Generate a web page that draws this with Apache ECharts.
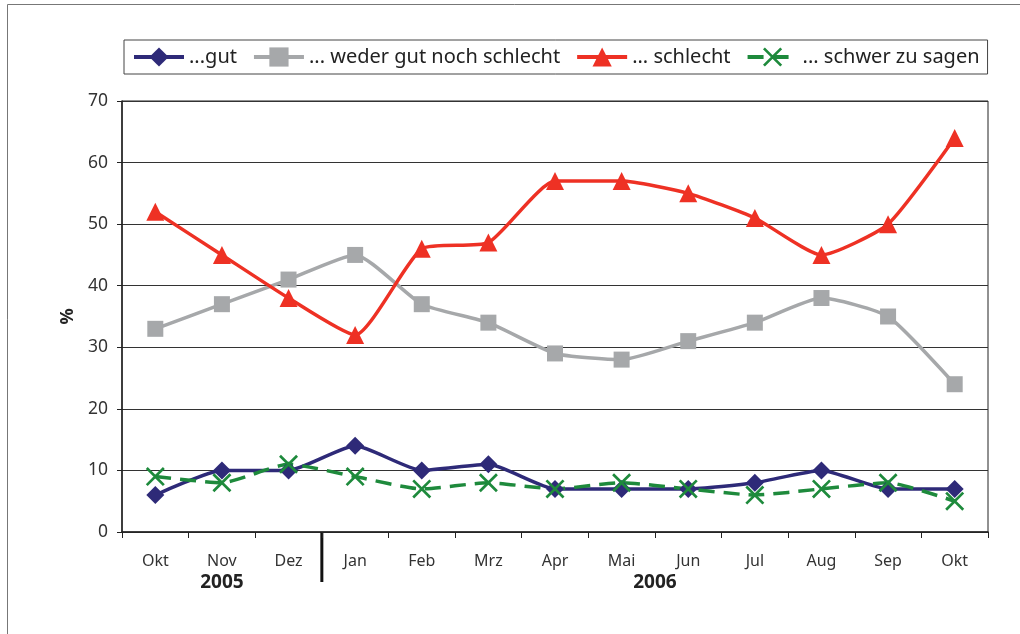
<!DOCTYPE html>
<html>
<head>
<meta charset="utf-8">
<script src="https://cdn.jsdelivr.net/npm/echarts@6/dist/echarts.min.js"></script>
<style>
html,body{margin:0;padding:0;background:#fff;}
#main{width:1020px;height:634px;}
</style>
</head>
<body>
<div id="main"></div>
<script>
// Monate Okt 2005 bis Okt 2006
var months = ['Okt','Nov','Dez','Jan','Feb','Mrz','Apr','Mai','Jun','Jul','Aug','Sep','Okt'];
var seriesNames = ['...gut','... weder gut noch schlecht','... schlecht','... schwer zu sagen'];
var gut      = [6, 10, 10, 14, 10, 11, 7, 7, 7, 8, 10, 7, 7];
var weder    = [33, 37, 41, 45, 37, 34, 29, 28, 31, 34, 38, 35, 24];
var schlecht = [52, 45, 38, 32, 46, 47, 57, 57, 55, 51, 45, 50, 64];
var schwer   = [9, 8, 11, 9, 7, 8, 7, 8, 7, 6, 7, 8, 5];
// Jahresbeschriftung: Position als Kategorie-Index
var years = [{text:'2005', idx:1}, {text:'2006', idx:7.5}];
var yearSplit = 2.5;

var FONT = '"Noto Sans", sans-serif';
var crossPath = 'path://M0,1 L1,0 L10,9 L9,10 Z M9,0 L10,1 L1,10 L0,9 Z';

var myChart = echarts.init(document.getElementById('main'));

function mkLine(name, data, color, symbol, size, dashed){
	return {
		name: name,
		type: 'line',
		data: data,
		smooth: 0.18,
		symbol: symbol,
		symbolSize: size,
		showSymbol: true,
		lineStyle: {color: color, width: 3.5, type: dashed ? [16, 9] : 'solid'},
		itemStyle: {color: color},
		emphasis: {disabled: true},
		animation: false
	};
}

var option = {
	animation: false,
	grid: {left: 122, right: 32, top: 101, bottom: 102, show: true, borderColor: '#222', borderWidth: 1},
	legend: {
		data: seriesNames,
		left: 124, top: 40,
		padding: [7, 8, 7, 8],
		itemGap: 15,
		itemWidth: 50, itemHeight: 24,
		borderColor: '#444', borderWidth: 1,
		lineStyle: {width: 4},
		textStyle: {fontFamily: FONT, fontSize: 20, color: '#222'}
	},
	xAxis: {
		type: 'category',
		data: months,
		boundaryGap: true,
		axisLine: {lineStyle: {color: '#222', width: 1.5}},
		axisTick: {show: true, length: 6, lineStyle: {color: '#222'}},
		axisLabel: {fontFamily: FONT, fontSize: 16, color: '#333', margin: 21}
	},
	yAxis: {
		type: 'value',
		min: 0, max: 70, interval: 10,
		name: '%',
		nameLocation: 'middle',
		nameGap: 45,
		nameRotate: 90,
		nameTextStyle: {fontFamily: FONT, fontSize: 18, fontWeight: 'bold', color: '#222'},
		axisLine: {show: true, lineStyle: {color: '#222', width: 1.5}},
		axisTick: {show: true, length: 5, lineStyle: {color: '#222'}},
		axisLabel: {fontFamily: FONT, fontSize: 17.5, color: '#333', margin: 14},
		splitLine: {lineStyle: {color: '#333', width: 1}}
	},
	series: [
		mkLine(seriesNames[0], gut, '#2e2a78', 'diamond', 18, false),
		mkLine(seriesNames[1], weder, '#a6a8aa', 'rect', 16, false),
		mkLine(seriesNames[2], schlecht, '#ee3124', 'triangle', 18, false),
		mkLine(seriesNames[3], schwer, '#1e8a3c', crossPath, 19, true)
	]
};
myChart.setOption(option);

// Rahmen, Jahreszahlen und Trennstrich aus den Achsenpositionen
var y0 = myChart.convertToPixel({yAxisIndex: 0}, 0);
function catX(i){
	var a = myChart.convertToPixel({xAxisIndex: 0}, Math.floor(i));
	var b = myChart.convertToPixel({xAxisIndex: 0}, Math.floor(i) + 1);
	return a + (b - a) * (i - Math.floor(i));
}
var g = [{
	type: 'rect', silent: true,
	shape: {x: 7.5, y: 4.5, width: 1100, height: 700},
	style: {fill: 'none', stroke: '#777', lineWidth: 1}
}, {
	type: 'line', silent: true,
	shape: {x1: catX(yearSplit), y1: y0, x2: catX(yearSplit), y2: y0 + 50},
	style: {stroke: '#111', lineWidth: 3}
}];
years.forEach(function(yr){
	g.push({
		type: 'text', silent: true,
		x: catX(yr.idx), y: y0 + 51,
		style: {text: yr.text, fontFamily: FONT, fontSize: 19, fontWeight: 'bold', fill: '#222', align: 'center', verticalAlign: 'middle'}
	});
});
myChart.setOption({graphic: g});
</script>
</body>
</html>
